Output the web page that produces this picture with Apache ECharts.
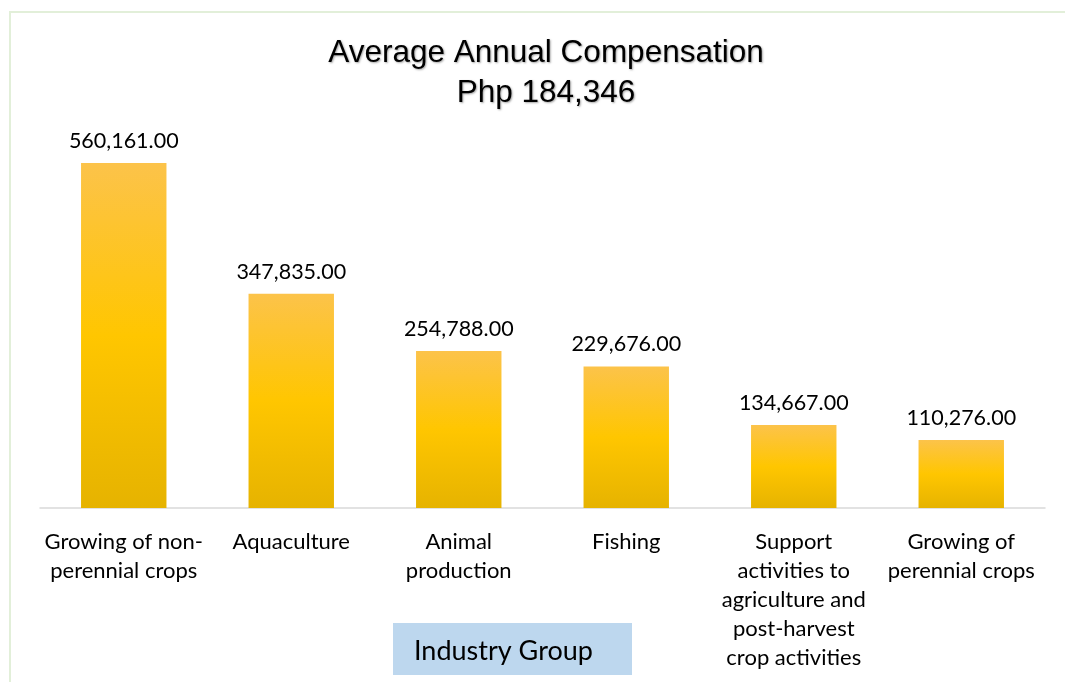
<!DOCTYPE html>
<html>
<head>
<meta charset="utf-8">
<script src="https://cdn.jsdelivr.net/npm/echarts@6/dist/echarts.min.js"></script>
<style>
  html, body { margin: 0; padding: 0; background: #fff; }
  #chart { width: 1065px; height: 682px; }
</style>
</head>
<body>
<div id="chart"></div>
<script>
// Industry groups (x axis) and their average annual compensation (Php)
const categories = [
  'Growing of non-\nperennial crops',
  'Aquaculture',
  'Animal\nproduction',
  'Fishing',
  'Support\nactivities to\nagriculture and\npost-harvest\ncrop activities',
  'Growing of\nperennial crops'
];
const compensation = [560161, 347835, 254788, 229676, 134667, 110276];
const titleLines = ['Average Annual Compensation', 'Php 184,346'];
const axisTitle = 'Industry Group';

const fmt = v => v.toLocaleString('en-US', { minimumFractionDigits: 2, maximumFractionDigits: 2 });

const chart = echarts.init(document.getElementById('chart'));
chart.setOption({
  animation: false,
  backgroundColor: '#ffffff',
  title: {
    text: titleLines.join('\n'),
    left: 541,
    textAlign: 'center',
    top: 28,
    textStyle: {
      fontFamily: 'Liberation Sans, Arial, sans-serif',
      fontSize: 31.5,
      fontWeight: 'normal',
      lineHeight: 40,
      color: '#000',
      textShadowColor: 'rgba(0,0,0,0.35)',
      textShadowBlur: 2,
      textShadowOffsetX: 1,
      textShadowOffsetY: 1
    }
  },
  grid: { left: 40, right: 20, top: 138.5, bottom: 174, containLabel: false },
  xAxis: {
    type: 'category',
    data: categories,
    axisLine: { lineStyle: { color: '#D9D9D9', width: 1.5 } },
    axisTick: { show: false },
    axisLabel: {
      interval: 0,
      margin: 19,
      fontFamily: 'Lato, Open Sans, sans-serif',
      fontSize: 22,
      lineHeight: 29,
      color: '#000'
    }
  },
  yAxis: {
    type: 'value',
    min: 0,
    max: 600000,
    show: false,
    splitLine: { show: false }
  },
  series: [{
    type: 'bar',
    data: compensation,
    barWidth: '51%',
    itemStyle: {
      color: new echarts.graphic.LinearGradient(0, 0, 0, 1, [
        { offset: 0, color: '#FCC34A' },
        { offset: 0.5, color: '#FFC600' },
        { offset: 1, color: '#E6B300' }
      ])
    },
    label: {
      show: true,
      position: 'top',
      distance: 11,
      formatter: p => fmt(p.value),
      fontFamily: 'Lato, Open Sans, sans-serif',
      fontSize: 21.5,
      color: '#000'
    }
  }],
  graphic: [
    {
      type: 'polyline',
      shape: { points: [[10, 682], [10, 12], [1065, 12]] },
      style: { fill: 'none', stroke: '#E2EFD9', lineWidth: 2 },
      silent: true
    },
    {
      type: 'rect',
      shape: { x: 393, y: 623, width: 239, height: 52 },
      style: { fill: '#BDD7EE' },
      silent: true
    },
    {
      type: 'text',
      x: 414,
      y: 651,
      style: {
        text: axisTitle,
        fontFamily: 'Lato, Open Sans, sans-serif',
        fontSize: 27,
        fill: '#000',
        verticalAlign: 'middle'
      },
      silent: true
    }
  ]
});
</script>
</body>
</html>
